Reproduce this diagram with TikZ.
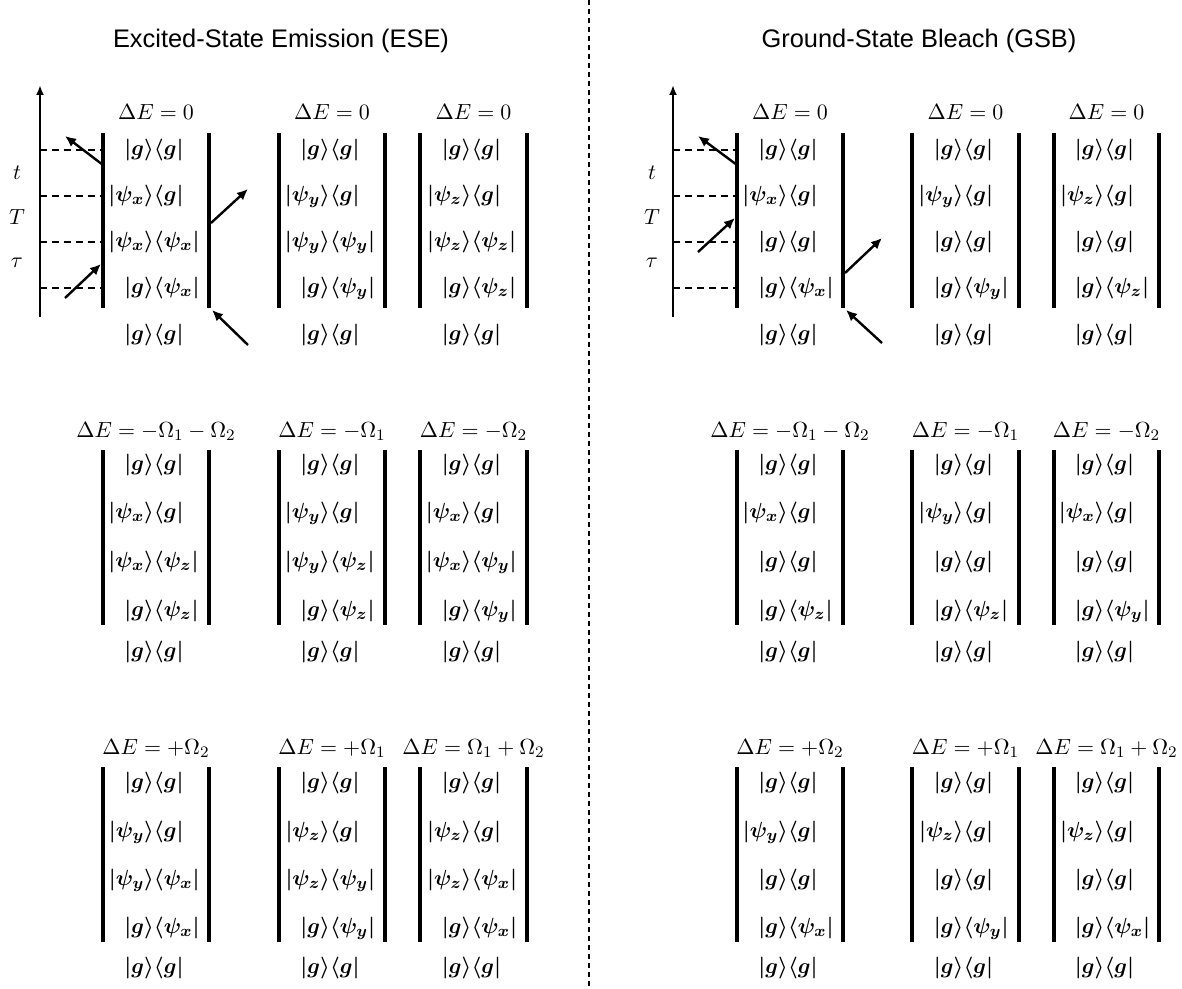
\documentclass[tikz,border=0pt]{standalone}
\usepackage{fontspec}
\newfontfamily\titlefont{Liberation Sans}
\usetikzlibrary{arrows.meta}
\tikzset{
 bar/.style={line width=1.7pt, line cap=butt},
 axisline/.style={line width=1pt, -{Latex[length=5pt,width=4pt]}},
 dsh/.style={line width=0.6pt, dash pattern=on 3.5pt off 2.5pt},
 pulse/.style={line width=1.2pt, -{Latex[length=5.5pt,width=5pt]}},
 kb/.style={inner sep=0pt, font=\fontsize{11.3}{13}\selectfont\boldmath},
 lbl/.style={inner sep=0pt, anchor=base, font=\fontsize{11.3}{13}\selectfont},
 tlbl/.style={inner sep=0pt, font=\fontsize{11.3}{13}\selectfont},
 ttl/.style={inner sep=0pt, anchor=base, font=\titlefont\fontsize{12.7}{15}\selectfont},
 divider/.style={line width=1.1pt, dash pattern=on 2.5pt off 2pt},
}
\def\ysA{{150,196,242,288,335}}
\def\ysB{{465,513,562,611,652}}
\def\ysC{{783,832,880,928,968}}
% prefix, xl, xr, ytop, label, y-list, kets
\newcommand\dg[7]{%
  \coordinate (#1lt) at (#2,#4);
  \coordinate (#1lb) at (#2,#4+175);
  \coordinate (#1rt) at (#3,#4);
  \coordinate (#1rb) at (#3,#4+175);
  \draw[bar] (#1lt) -- (#1lb);
  \draw[bar] (#1rt) -- (#1rb);
  \node[lbl] (#1h) at ({(#2+#3)/2},#4-13) {$#5$};
  \foreach \k/\b [count=\i] in {#7} {
    \pgfmathsetmacro\yy{#6[\i-1]}
    \node[kb] (#1k\i) at ({(#2+#3)/2-2},\yy) {\llap{$|\k\rangle$}\rlap{$\langle\b|$}};
  }
}
% prefix, x axis, x bar, x labels
\newcommand\taxis[4]{%
  \coordinate (#1a0) at (#2,317);
  \coordinate (#1a1) at (#2,85);
  \draw[axisline] (#1a0) -- (#1a1);
  \foreach \y [count=\i] in {150,196,242,288} {
    \coordinate (#1da\i) at (#2,\y);
    \coordinate (#1db\i) at (#3,\y);
    \draw[dsh] (#1da\i) -- (#1db\i);
  }
  \node[tlbl] (#1t) at (#4,173) {$t$};
  \node[tlbl] (#1T) at (#4,217) {$T$};
  \node[tlbl] (#1tau) at (#4,263) {$\tau$};
}
\begin{document}
\begin{tikzpicture}[x=0.5pt,y=-0.5pt]
\path[fill=white,use as bounding box] (0,0) rectangle (1182,989);

% titles
\node[ttl] (ttlE) at (281,48) {Excited-State Emission (ESE)};
\node[ttl] (ttlG) at (919,48) {Ground-State Bleach (GSB)};

% divider
\coordinate (dv0) at (589,0);
\coordinate (dv1) at (589,989);
\draw[divider] (dv0) -- (dv1);

% time axes
\taxis{e}{40}{103}{17}
\taxis{g}{673}{737}{652}

% ESE
\dg{e11}{103}{209}{133}{\Delta E=0}{\ysA}{g/g, \psi_x/g, \psi_x/\psi_x, g/\psi_x, g/g}
\dg{e12}{279}{385}{133}{\Delta E=0}{\ysA}{g/g, \psi_y/g, \psi_y/\psi_y, g/\psi_y, g/g}
\dg{e13}{420}{527}{133}{\Delta E=0}{\ysA}{g/g, \psi_z/g, \psi_z/\psi_z, g/\psi_z, g/g}
\dg{e21}{103}{209}{450}{\Delta E=-\Omega_1-\Omega_2}{\ysB}{g/g, \psi_x/g, \psi_x/\psi_z, g/\psi_z, g/g}
\dg{e22}{279}{385}{450}{\Delta E=-\Omega_1}{\ysB}{g/g, \psi_y/g, \psi_y/\psi_z, g/\psi_z, g/g}
\dg{e23}{420}{527}{450}{\Delta E=-\Omega_2}{\ysB}{g/g, \psi_x/g, \psi_x/\psi_y, g/\psi_y, g/g}
\dg{e31}{103}{209}{767}{\Delta E=+\Omega_2}{\ysC}{g/g, \psi_y/g, \psi_y/\psi_x, g/\psi_x, g/g}
\dg{e32}{279}{385}{767}{\Delta E=+\Omega_1}{\ysC}{g/g, \psi_z/g, \psi_z/\psi_y, g/\psi_y, g/g}
\dg{e33}{420}{527}{767}{\Delta E=\Omega_1+\Omega_2}{\ysC}{g/g, \psi_z/g, \psi_z/\psi_x, g/\psi_x, g/g}

% GSB
\dg{g11}{737}{843}{133}{\Delta E=0}{\ysA}{g/g, \psi_x/g, g/g, g/\psi_x, g/g}
\dg{g12}{912}{1019}{133}{\Delta E=0}{\ysA}{g/g, \psi_y/g, g/g, g/\psi_y, g/g}
\dg{g13}{1054}{1159}{133}{\Delta E=0}{\ysA}{g/g, \psi_z/g, g/g, g/\psi_z, g/g}
\dg{g21}{737}{843}{450}{\Delta E=-\Omega_1-\Omega_2}{\ysB}{g/g, \psi_x/g, g/g, g/\psi_z, g/g}
\dg{g22}{912}{1019}{450}{\Delta E=-\Omega_1}{\ysB}{g/g, \psi_y/g, g/g, g/\psi_z, g/g}
\dg{g23}{1054}{1159}{450}{\Delta E=-\Omega_2}{\ysB}{g/g, \psi_x/g, g/g, g/\psi_y, g/g}
\dg{g31}{737}{843}{767}{\Delta E=+\Omega_2}{\ysC}{g/g, \psi_y/g, g/g, g/\psi_x, g/g}
\dg{g32}{912}{1019}{767}{\Delta E=+\Omega_1}{\ysC}{g/g, \psi_z/g, g/g, g/\psi_y, g/g}
\dg{g33}{1054}{1159}{767}{\Delta E=\Omega_1+\Omega_2}{\ysC}{g/g, \psi_z/g, g/g, g/\psi_x, g/g}

% pulse arrows, ESE
\coordinate (ep1s) at (103,165); \coordinate (ep1e) at (65,136);
\coordinate (ep2s) at (65,298);  \coordinate (ep2e) at (101,264);
\coordinate (ep3s) at (211,223); \coordinate (ep3e) at (248,189);
\coordinate (ep4s) at (248,345); \coordinate (ep4e) at (212,310);
\draw[pulse] (ep1s) -- (ep1e);
\draw[pulse] (ep2s) -- (ep2e);
\draw[pulse] (ep3s) -- (ep3e);
\draw[pulse] (ep4s) -- (ep4e);

% pulse arrows, GSB
\coordinate (gp1s) at (737,165); \coordinate (gp1e) at (698,136);
\coordinate (gp2s) at (698,252); \coordinate (gp2e) at (735,218);
\coordinate (gp3s) at (845,273); \coordinate (gp3e) at (882,238);
\coordinate (gp4s) at (882,343); \coordinate (gp4e) at (846,310);
\draw[pulse] (gp1s) -- (gp1e);
\draw[pulse] (gp2s) -- (gp2e);
\draw[pulse] (gp3s) -- (gp3e);
\draw[pulse] (gp4s) -- (gp4e);
\end{tikzpicture}
\end{document}
